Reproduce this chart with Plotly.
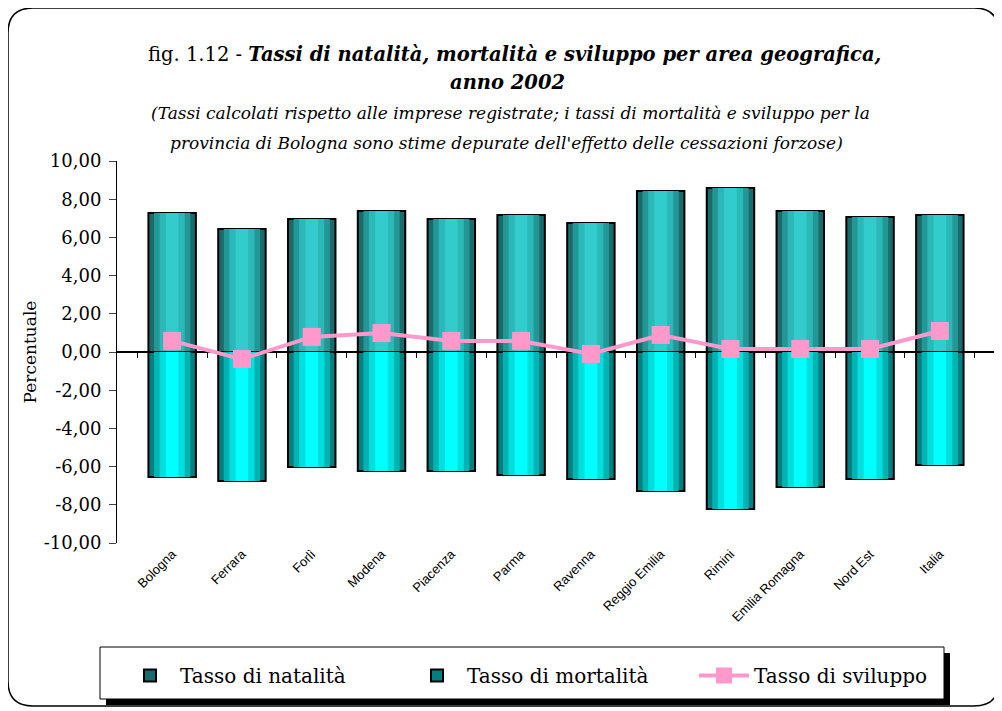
import plotly.graph_objects as go

categories = ["Bologna", "Ferrara", "Forlì", "Modena", "Piacenza", "Parma", "Ravenna",
              "Reggio Emilia", "Rimini", "Emilia Romagna", "Nord Est", "Italia"]
natalita = [7.28, 6.44, 6.96, 7.38, 6.96, 7.17, 6.75, 8.43, 8.59, 7.38, 7.07, 7.17]
mortalita = [-6.54, -6.75, -6.02, -6.23, -6.23, -6.44, -6.65, -7.28, -8.22, -7.07, -6.65, -5.92]
sviluppo = [0.58, -0.37, 0.79, 0.99, 0.58, 0.58, -0.10, 0.89, 0.16, 0.16, 0.16, 1.10]
y_ticks = [-10, -8, -6, -4, -2, 0, 2, 4, 6, 8, 10]
y_tick_labels = ["-10,00", "-8,00", "-6,00", "-4,00", "-2,00", "0,00",
                 "2,00", "4,00", "6,00", "8,00", "10,00"]

# page is offset by the 8px body margin; work in page pixels
OFF = 8
W, H = 1002 - OFF, 711 - OFF
L, R, T, B = 117, 995, 161, 543          # plot area in page pixels
def px(x): return (x - L) / (R - L)
def py(y): return (B - y) / (B - T)

SERIF = "DejaVu Serif"

fig = go.Figure()

# layered bars to mimic cylinder shading
nat_layers = [(0.68, "#1a6b6b", True), (0.52, "#239696", False), (0.36, "#2bb8b8", False), (0.18, "#33cccc", False)]
mor_layers = [(0.68, "#008080", True), (0.52, "#00b3b3", False), (0.36, "#00dede", False), (0.18, "#00ffff", False)]
for w, c, first in nat_layers:
    fig.add_trace(go.Bar(x=categories, y=natalita, width=w, name="Tasso di natalità",
                         marker=dict(color=c, line=dict(color="black", width=2 if first else 0)),
                         showlegend=first, legendgroup="nat", hoverinfo="skip" if not first else None))
for w, c, first in mor_layers:
    fig.add_trace(go.Bar(x=categories, y=mortalita, width=w, name="Tasso di mortalità",
                         marker=dict(color=c, line=dict(color="black", width=2 if first else 0)),
                         showlegend=first, legendgroup="mor", hoverinfo="skip" if not first else None))

fig.add_trace(go.Scatter(x=categories, y=sviluppo, mode="lines+markers", name="Tasso di sviluppo",
                         xaxis="x2",
                         line=dict(color="#ff99cc", width=4),
                         marker=dict(symbol="square", size=18, color="#ff99cc")))

shapes = []
# outer rounded border
x0, y0, x1, y1 = px(8), py(8), px(999), py(706)
rx = 25 / (R - L)
ry = 25 / (B - T)
path = (f"M {x0+rx},{y0} L {x1-rx},{y0} Q {x1},{y0} {x1},{y0-ry} "
        f"L {x1},{y1+ry} Q {x1},{y1} {x1-rx},{y1} L {x0+rx},{y1} Q {x0},{y1} {x0},{y1+ry} "
        f"L {x0},{y0-ry} Q {x0},{y0} {x0+rx},{y0} Z")
shapes.append(dict(type="path", xref="paper", yref="paper", path=path,
                   line=dict(color="black", width=1.5)))
# legend shadow and box
shapes.append(dict(type="rect", xref="paper", yref="paper", x0=px(106), x1=px(950), y0=py(653), y1=py(705),
                   fillcolor="black", line=dict(width=0), layer="above"))
shapes.append(dict(type="rect", xref="paper", yref="paper", x0=px(100), x1=px(944), y0=py(647), y1=py(699),
                   fillcolor="white", line=dict(color="black", width=1), layer="above"))

annotations = [
    dict(text="fig. 1.12 - <b><i>Tassi di natalità, mortalità e sviluppo per area geografica,</i></b>",
         x=px(514), y=py(41), xref="paper", yref="paper", showarrow=False,
         font=dict(size=19.5, family=SERIF, color="black")),
    dict(text="<b><i>anno 2002</i></b>",
         x=px(507), y=py(69), xref="paper", yref="paper", showarrow=False,
         font=dict(size=19.5, family=SERIF, color="black")),
    dict(text="<i>(Tassi calcolati rispetto alle imprese registrate; i tassi di mortalità e sviluppo per la</i>",
         x=px(510), y=py(101), xref="paper", yref="paper", showarrow=False,
         font=dict(size=17, family=SERIF, color="black")),
    dict(text="<i>provincia di Bologna sono stime depurate dell'effetto delle cessazioni forzose)</i>",
         x=px(506), y=py(131), xref="paper", yref="paper", showarrow=False,
         font=dict(size=17, family=SERIF, color="black")),
]

fig.update_layout(
    width=W, height=H,
    margin=dict(l=L - OFF, r=W - (R - OFF), t=T - OFF, b=H - (B - OFF), autoexpand=False),
    paper_bgcolor="white", plot_bgcolor="white",
    barmode="overlay",
    font=dict(family=SERIF, color="black"),
    shapes=shapes, annotations=annotations,
    legend=dict(orientation="h", x=px(120), y=py(656), xanchor="left", yanchor="top",
                bgcolor="rgba(0,0,0,0)", font=dict(size=20, family=SERIF),
                itemwidth=50, entrywidth=222, tracegroupgap=0),
    xaxis2=dict(overlaying="x", matches="x", anchor="free", position=0.5, type="category",
                showgrid=False, showline=False, zeroline=False, showticklabels=False,
                ticks="outside", tickson="boundaries", ticklen=5, tickcolor="black", automargin=False),
)
fig.update_yaxes(range=[-10, 10], tickvals=y_ticks, ticktext=y_tick_labels, automargin=False,
                 showline=True, linecolor="black", linewidth=1, ticks="outside", ticklen=7,
                 ticklabelstandoff=4,
                 showgrid=False, zeroline=True, zerolinecolor="black", zerolinewidth=1.5,
                 tickfont=dict(size=18, family=SERIF),
                 title=dict(text="Percentuale", font=dict(size=17, family=SERIF), standoff=2))
fig.layout.xaxis.update(showgrid=False, showline=False, ticks="", tickangle=-45,
                        automargin=False, tickfont=dict(size=13, family="Liberation Sans"))

fig.write_html("out.html")
